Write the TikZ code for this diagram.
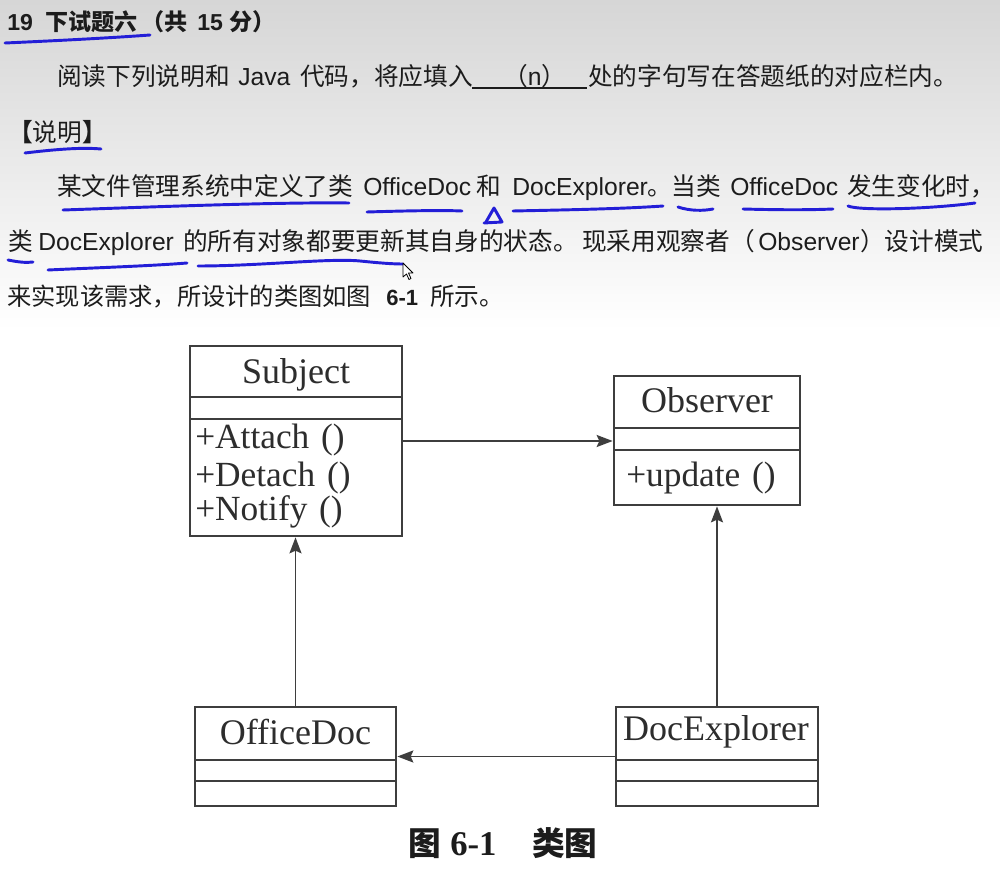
\documentclass[tikz,border=0pt]{standalone}
\usepackage{fontspec}
\setmainfont{Liberation Sans}
\newfontfamily\zh{Noto Sans CJK SC}
\newfontfamily\tms{Liberation Serif}
\usetikzlibrary{arrows.meta,fit}
\definecolor{ink}{RGB}{28,28,28}
\definecolor{blueink}{RGB}{35,30,215}
\definecolor{umlline}{RGB}{62,62,62}
\definecolor{umltext}{RGB}{45,45,45}
\definecolor{bgtop}{RGB}{214,214,214}
\definecolor{bgmid}{RGB}{236,236,236}
\tikzset{
  lat/.style={anchor=base west, inner sep=0pt, text=ink, font=\fontsize{18.5}{20}\selectfont},
  han/.style={anchor=base west, inner sep=0pt, text=ink, font=\zh\fontsize{18.5}{20}\selectfont},
  hlat/.style={anchor=base west, inner sep=0pt, text=ink, font=\bfseries\fontsize{17.3}{19}\selectfont},
  hhan/.style={anchor=base west, inner sep=0pt, text=ink, font=\zh\bfseries\fontsize{17.3}{19}\selectfont},
  pen/.style={draw=blueink, line width=2.2pt, line cap=round, line join=round},
  umlbox/.style={draw=umlline, line width=2pt, inner sep=0pt},
  umlsep/.style={draw=umlline, line width=1.8pt},
  umlname/.style={anchor=base, inner sep=0pt, text=umltext, font=\tms\fontsize{27}{28}\selectfont},
  umlop/.style={anchor=base west, inner sep=0pt, text=umltext, font=\tms\fontsize{26.5}{28}\selectfont},
  arr/.style={draw=umlline, line width=1.4pt, -{Stealth[length=12pt,width=9pt,inset=2pt]}},
  captext/.style={anchor=base west, inner sep=0pt, text=ink},
}
\begin{document}
\begin{tikzpicture}[x=0.75pt,y=-0.75pt]
\useasboundingbox (0,0) rectangle (1000,892);
\fill[white] (0,0) rectangle (1000,892);
\shade[top color=bgtop, middle color=bgmid, bottom color=white] (0,0) rectangle (1000,330);

% ---------- heading ----------
\node[hlat] (h1) at (7,31) {19};
\node[hhan] (h2) at (45,31) {下试题六};
\node[hhan] (h2b) at (141,31) {（共};
\node[hlat] (h3) at (197,31) {15};
\node[hhan] (h4) at (229,31) {分）};

% ---------- line 2 ----------
\node[han] (a1) at (57,85.5) {阅读下列说明和};
\node[lat] (a2) at (238,85.5) {Java};
\node[han] (a3) at (300,85.5) {代码，将应填入};
\node[lat] (a4) at (503,85.5) {{\zh （}n{\zh ）}};
\node[han] (a5) at (588,85.5) {处的字句写在答题纸的对应栏内。};
\draw[ink, line width=1.6pt] (472,88) -- (587,88);

% ---------- line 3 ----------
\node[han] (b1) at (8,141.5) {{\bfseries 【}说明{\bfseries 】}};

% ---------- line 4 ----------
\node[han] (c1) at (57,195.5) {某文件管理系统中定义了类};
\node[lat] (c2) at (363,195.5) {OfficeDoc};
\node[han] (c3) at (476,195.5) {和};
\node[lat] (c4) at (512,195.5) {DocExplorer};
\node[han] (c5) at (647,195.5) {。当类};
\node[lat] (c6) at (730,195.5) {OfficeDoc};
\node[han] (c7) at (847,195.5) {发生变化时，};

% ---------- line 5 ----------
\node[han] (d1) at (8,250.5) {类};
\node[lat] (d2) at (38,250.5) {DocExplorer};
\node[han] (d3) at (183,250.5) {的所有对象都要更新其自身的状态。};
\node[han] (d4) at (582,250.5) {现采用观察者（};
\node[lat] (d5) at (758,250.5) {Observer};
\node[han] (d6) at (860,250.5) {）设计模式};

% ---------- line 6 ----------
\node[han, font=\zh\fontsize{18.2}{20}\selectfont] (e1) at (7,305.5) {来实现该需求，所设计的类图如图};
\node[lat, font=\bfseries\fontsize{16.5}{18}\selectfont] (e2) at (386,305.5) {6-1};
\node[han] (e3) at (430,305.5) {所示。};

% ---------- blue pen marks ----------
\draw[pen] (5,43) .. controls (50,41) and (110,38) .. (150,35);
\draw[pen] (25,153) .. controls (50,150) and (80,147) .. (101,149);
\draw[pen] (63,210) .. controls (150,207) and (280,202) .. (349,203);
\draw[pen] (367,212) .. controls (400,211) and (440,210) .. (462,211);
\draw[pen] (486,222) -- (494,208) -- (502,222) -- (484,223);
\draw[pen] (513,211) .. controls (560,210) and (620,209) .. (663,206);
\draw[pen] (678,207) .. controls (690,211) and (703,211) .. (713,209);
\draw[pen] (743,209) .. controls (780,210) and (810,210) .. (833,209);
\draw[pen] (848,206) .. controls (860,211) and (930,209) .. (975,203);
\draw[pen] (8,260) .. controls (18,262) and (26,263) .. (33,262);
\draw[pen] (48,270) .. controls (90,268) and (150,266) .. (187,263);
\draw[pen] (198,266) .. controls (260,266) and (330,258) .. (360,261) .. controls (380,263) and (392,264) .. (403,264);
\draw[fill=white, draw=black, line width=0.6pt, line join=round]
  (403,263) -- (403,277) -- (406.5,274) -- (409,279.5) -- (411,278.5) -- (408.5,273) -- (413,273) -- cycle;

% ---------- class diagram ----------
\node[umlbox, fit={(190,346) (402,536)}] (subject) {};
\draw[umlsep] (190,397) -- (402,397);
\draw[umlsep] (190,419) -- (402,419);
\node[umlname] (subjectname) at (296,383) {Subject};
\node[umlop] (op1) at (195,448) {+Attach\,\,()};
\node[umlop] (op2) at (195,486) {+Detach\,\,()};
\node[umlop] (op3) at (195,520) {+Notify\,\,()};

\node[umlbox, fit={(614,376) (800,505)}] (observer) {};
\draw[umlsep] (614,428) -- (800,428);
\draw[umlsep] (614,450) -- (800,450);
\node[umlname] (observername) at (707,412) {Observer};
\node[umlop] (op4) at (626,486) {+update\,\,()};

\node[umlbox, fit={(195,707) (396,806)}] (officedoc) {};
\draw[umlsep] (195,760) -- (396,760);
\draw[umlsep] (195,781) -- (396,781);
\node[umlname] (officedocname) at (295.5,744) {OfficeDoc};

\node[umlbox, fit={(616,707) (818,806)}] (docexplorer) {};
\draw[umlsep] (616,760) -- (818,760);
\draw[umlsep] (616,781) -- (818,781);
\node[umlname] (docexplorername) at (716,740) {DocExplorer};

\draw[arr] (subject.east) -- (subject.east -| observer.west);
\draw[arr] (officedoc.north) -- (officedoc.north |- subject.south);
\draw[arr] (docexplorer.north) -- (docexplorer.north |- observer.south);
\draw[arr] (docexplorer.west) -- (docexplorer.west -| officedoc.east);

% ---------- caption ----------
\node[captext, font=\zh\bfseries\fontsize{24.5}{26}\selectfont] (cap1) at (408,855) {图};
\node[captext, font=\tms\bfseries\fontsize{26}{28}\selectfont] (cap2) at (450,855) {6-1};
\node[captext, font=\zh\bfseries\fontsize{24.5}{26}\selectfont] (cap3) at (532,855) {类图};
\end{tikzpicture}
\end{document}
